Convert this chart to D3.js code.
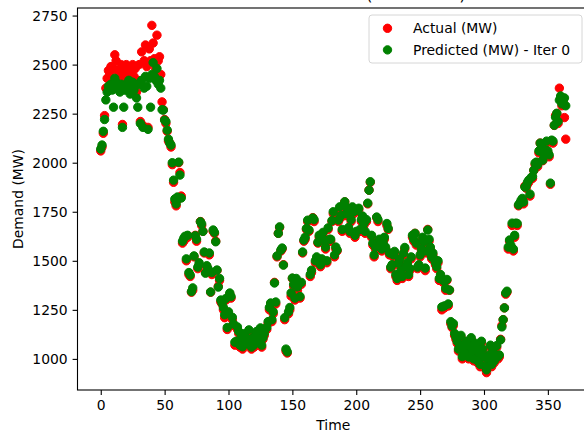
<!DOCTYPE html>
<html>
<head>
<meta charset="utf-8">
<script src="https://cdn.jsdelivr.net/npm/d3@7"></script>
<style>
  html, body { margin: 0; padding: 0; background: #fff; overflow: hidden; }
  svg { display: block; font-family: "DejaVu Sans", sans-serif; }
</style>
</head>
<body>
<div id="chart"></div>
<script>
// daily demand (MW), day 0 .. 364
const actual = [
  2060, 2080, 2150, 2240, 2380, 2430, 2470, 2450, 2490, 2420,
  2480, 2550, 2520, 2470, 2440, 2460, 2500, 2195, 2480, 2430,
  2500, 2450, 2490, 2400, 2470, 2500, 2440, 2480, 2360, 2420,
  2500, 2210, 2565, 2190, 2520, 2600, 2490, 2180, 2580, 2520,
  2700, 2610, 2530, 2480, 2650, 2520, 2540, 2450, 2310, 2270,
  2220, 2200, 2160, 2110, 2100, 2080, 1990, 1900, 1800, 1780,
  1810, 2000, 1950, 1830, 1590, 1600, 1610, 1500, 1620, 1430,
  1420, 1340, 1350, 1520, 1630, 1600, 1460, 1480, 1700, 1680,
  1650, 1540, 1440, 1470, 1450, 1530, 1340, 1430, 1650, 1640,
  1600, 1450, 1370, 1400, 1290, 1280, 1250, 1210, 1300, 1150,
  1230, 1330, 1310, 1200, 1170, 1070, 1080, 1150, 1130, 1060,
  1100, 1050, 1120, 1090, 1100, 1070, 1140, 1080, 1050, 1100,
  1060, 1110, 1130, 1080, 1140, 1150, 1060, 1100, 1120, 1150,
  1150, 1180, 1250, 1280, 1190, 1230, 1390, 1280, 1520, 1640,
  1670, 1550, 1560, 1480, 1200, 1040, 1030, 1230, 1250, 1320,
  1410, 1370, 1300, 1400, 1350, 1380, 1310, 1380, 1540, 1600,
  1610, 1660, 1700, 1650, 1420, 1440, 1720, 1700, 1490, 1510,
  1590, 1620, 1470, 1500, 1640, 1600, 1560, 1490, 1660, 1600,
  1600, 1700, 1740, 1520, 1560, 1550, 1700, 1760, 1720, 1650,
  1780, 1800, 1730, 1760, 1660, 1640, 1700, 1770, 1740, 1620,
  1640, 1750, 1760, 1650, 1700, 1720, 1680, 1640, 1700, 1790,
  1860, 1900, 1620, 1580, 1520, 1560, 1720, 1700, 1600, 1570,
  1550, 1590, 1610, 1560, 1680, 1660, 1530, 1460, 1470, 1520,
  1540, 1420, 1400, 1480, 1500, 1440, 1410, 1530, 1560, 1460,
  1480, 1420, 1450, 1510, 1620, 1600, 1640, 1580, 1460, 1470,
  1520, 1550, 1610, 1590, 1450, 1540, 1660, 1600, 1560, 1510,
  1530, 1500, 1480, 1460, 1490, 1400, 1420, 1250, 1390, 1260,
  1350, 1400, 1270, 1350, 1180, 1160, 1170, 1120, 1100, 1080,
  1040, 1060, 1110, 1000, 1050, 1020, 1080, 1060, 1000, 1050,
  1100, 1030, 990, 1070, 1050, 980, 1020, 960, 1080, 1040,
  1000, 950, 930, 990, 1010, 1060, 960, 1040, 980, 1010,
  1060, 1000, 1010, 1100, 1170, 1200, 1260, 1330, 1340, 1560,
  1600, 1570, 1680, 1550, 1620, 1690, 1680, 1780, 1790, 1800,
  1810, 1790, 1880, 1870, 1890, 1900, 1830, 1920, 1920, 1960,
  1990, 2000, 1980, 2050, 2100, 2080, 2010, 2030, 2070, 2100,
  2050, 2030, 1890, 2110, 2100, 2190, 2240, 2250, 2200, 2380,
  2330, 2290, 2310, 2230, 2120
];

const predicted = [
  2070, 2090, 2160, 2220, 2320, 2360, 2390, 2380, 2400, 2370,
  2283, 2430, 2410, 2390, 2370, 2360, 2400, 2180, 2283, 2370,
  2400, 2380, 2420, 2350, 2390, 2410, 2370, 2400, 2330, 2283,
  2400, 2200, 2420, 2180, 2380, 2440, 2390, 2170, 2430, 2283,
  2450, 2510, 2440, 2420, 2480, 2400, 2420, 2380, 2270, 2268,
  2217, 2210, 2166, 2120, 2100, 2090, 2000, 1911, 1815, 1790,
  1825, 2003, 1937, 1820, 1600, 1615, 1625, 1510, 1630, 1440,
  1428, 1343, 1362, 1525, 1628, 1610, 1468, 1490, 1699, 1688,
  1650, 1545, 1437, 1475, 1460, 1540, 1341, 1440, 1657, 1645,
  1597, 1453, 1366, 1410, 1300, 1284, 1262, 1225, 1308, 1160,
  1240, 1336, 1318, 1212, 1178, 1085, 1090, 1163, 1140, 1070,
  1110, 1062, 1128, 1100, 1108, 1080, 1148, 1090, 1060, 1106,
  1072, 1118, 1140, 1090, 1146, 1158, 1070, 1108, 1130, 1155,
  1160, 1190, 1262, 1285, 1200, 1240, 1387, 1290, 1525, 1640,
  1673, 1555, 1565, 1478, 1210, 1050, 1036, 1240, 1262, 1336,
  1412, 1380, 1310, 1410, 1367, 1390, 1318, 1390, 1545, 1606,
  1620, 1665, 1707, 1657, 1430, 1452, 1718, 1710, 1500, 1520,
  1595, 1630, 1480, 1510, 1645, 1606, 1570, 1500, 1668, 1610,
  1610, 1705, 1750, 1530, 1570, 1555, 1708, 1775, 1730, 1660,
  1785, 1801, 1740, 1770, 1670, 1650, 1710, 1775, 1750, 1630,
  1650, 1758, 1768, 1660, 1710, 1728, 1690, 1650, 1710, 1794,
  1860, 1903, 1630, 1590, 1530, 1570, 1723, 1710, 1610, 1580,
  1560, 1598, 1620, 1570, 1690, 1665, 1540, 1468, 1480, 1530,
  1548, 1430, 1410, 1488, 1510, 1450, 1420, 1540, 1568, 1470,
  1490, 1430, 1460, 1520, 1630, 1610, 1640, 1590, 1468, 1480,
  1530, 1560, 1620, 1598, 1463, 1550, 1657, 1610, 1570, 1520,
  1540, 1510, 1490, 1470, 1500, 1410, 1430, 1265, 1400, 1270,
  1360, 1405, 1280, 1351, 1190, 1168, 1180, 1130, 1112, 1090,
  1050, 1072, 1120, 1012, 1060, 1030, 1090, 1070, 1010, 1062,
  1108, 1040, 1000, 1080, 1060, 990, 1030, 972, 1090, 1050,
  1010, 962, 944, 1000, 1020, 1070, 972, 1050, 990, 1020,
  1068, 1012, 1020, 1097, 1163, 1200, 1260, 1336, 1345, 1570,
  1606, 1580, 1692, 1560, 1630, 1692, 1690, 1785, 1794, 1808,
  1818, 1800, 1876, 1880, 1900, 1911, 1840, 1925, 1930, 1962,
  1998, 2003, 1990, 2060, 2100, 2090, 2013, 2040, 2064, 2110,
  2060, 2040, 1896, 2115, 2110, 2191, 2232, 2252, 2210, 2319,
  2340, 2300, 2320, 2330, 2290
];

const xTicks = [0, 50, 100, 150, 200, 250, 300, 350];
const yTicks = [1000, 1250, 1500, 1750, 2000, 2250, 2500, 2750];
const seriesNames = ['Actual (MW)', 'Predicted (MW) - Iter 0'];
const seriesColors = ['red', 'green'];
const titleText = 'Actual vs Predicted (Iteration 0)';

const W = 584, H = 433;
const plot = {left: 77.5, right: 589, top: 8, bottom: 390};
const FONT = 13.9;

const svg = d3.select('#chart').append('svg')
  .attr('width', W)
  .attr('height', H);

// matplotlib-ish 5% padding around the data
const pad = (ext) => {
  const m = (ext[1] - ext[0]) * 0.05;
  return [ext[0] - m, ext[1] + m];
};

const x = d3.scaleLinear()
  .domain(pad([0, actual.length - 1]))
  .range([plot.left, plot.right]);

const y = d3.scaleLinear()
  .domain(pad(d3.extent(actual.concat(predicted))))
  .range([plot.bottom, plot.top]);

// actual first, predicted drawn over it
const layers = [actual, predicted];
layers.forEach((vals, i) => {
  svg.append('g')
    .selectAll('circle')
    .data(vals)
    .enter()
    .append('circle')
    .attr('cx', (d, k) => x(k))
    .attr('cy', d => y(d))
    .attr('r', 4.2)
    .attr('fill', seriesColors[i])
    .attr('stroke', seriesColors[i])
    .attr('stroke-width', 1);
});

// axes
const xAxis = svg.append('g')
  .attr('transform', `translate(0,${plot.bottom})`)
  .call(d3.axisBottom(x).tickValues(xTicks).tickFormat(d3.format('d'))
    .tickSize(4.9).tickPadding(4.9));

const yAxis = svg.append('g')
  .attr('transform', `translate(${plot.left},0)`)
  .call(d3.axisLeft(y).tickValues(yTicks).tickFormat(d3.format('d'))
    .tickSize(4.9).tickPadding(4.9));

[xAxis, yAxis].forEach(a => {
  a.select('.domain').remove();
  a.selectAll('.tick line').attr('stroke', '#000').attr('stroke-width', 1.1);
  a.selectAll('.tick text')
    .attr('fill', '#000')
    .style('font-size', FONT + 'px')
    .style('font-family', '"DejaVu Sans", sans-serif');
});

// spines
svg.append('rect')
  .attr('x', plot.left)
  .attr('y', plot.top)
  .attr('width', plot.right - plot.left)
  .attr('height', plot.bottom - plot.top)
  .attr('fill', 'none')
  .attr('stroke', '#000')
  .attr('stroke-width', 1.1);

// labels
svg.append('text')
  .attr('x', (plot.left + plot.right) / 2)
  .attr('y', 429.5)
  .attr('text-anchor', 'middle')
  .style('font-size', FONT + 'px')
  .text('Time');

svg.append('text')
  .attr('transform', `translate(22.5,${(plot.top + plot.bottom) / 2}) rotate(-90)`)
  .attr('text-anchor', 'middle')
  .style('font-size', FONT + 'px')
  .text('Demand (MW)');

// title sits mostly above the visible area
svg.append('text')
  .attr('x', (plot.left + plot.right) / 2)
  .attr('y', -0.5)
  .attr('text-anchor', 'middle')
  .style('font-size', '16.7px')
  .text(titleText);

// legend
const legend = svg.append('g');
legend.append('rect')
  .attr('x', 369)
  .attr('y', 15)
  .attr('width', 213)
  .attr('height', 48)
  .attr('rx', 3)
  .attr('fill', 'rgba(255,255,255,0.8)')
  .attr('stroke', '#d6d6d6')
  .attr('stroke-width', 1);

seriesNames.forEach((name, i) => {
  const cy = 28.3 + i * 21.6;
  legend.append('circle')
    .attr('cx', 387.5)
    .attr('cy', cy)
    .attr('r', 4.2)
    .attr('fill', seriesColors[i])
    .attr('stroke', seriesColors[i])
    .attr('stroke-width', 1);
  legend.append('text')
    .attr('x', 413)
    .attr('y', cy + 4.8)
    .style('font-size', FONT + 'px')
    .text(name);
});
</script>
</body>
</html>
